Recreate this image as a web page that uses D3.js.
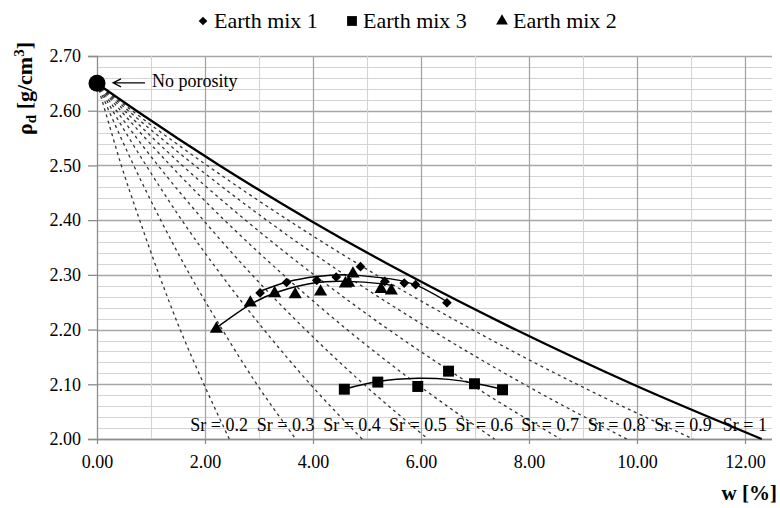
<!DOCTYPE html>
<meta charset="utf-8">
<script src="https://d3js.org/d3.v7.min.js"></script>
<style>
  body { margin: 0; background: #fff; }
</style>
<svg width="780" height="508"></svg>
<script>
// measured points (w in %, dry density in g/cm3)
var mix1W   = [3.02, 3.51, 4.07, 4.43, 4.88, 5.33, 5.69, 5.90, 6.48];
var mix1Rho = [2.267, 2.286, 2.290, 2.296, 2.315, 2.288, 2.285, 2.282, 2.249];
var mix2W   = [2.21, 2.84, 3.29, 3.67, 4.14, 4.60, 4.66, 4.74, 5.26, 5.45];
var mix2Rho = [2.201, 2.249, 2.266, 2.264, 2.269, 2.284, 2.285, 2.302, 2.274, 2.271];
var mix3W   = [4.58, 5.20, 5.94, 6.51, 6.99, 7.51];
var mix3Rho = [2.091, 2.104, 2.096, 2.124, 2.101, 2.090];

// trend lines
var trend1W   = [3.02, 3.52, 4.07, 4.63, 5.25, 5.86, 6.48];
var trend1Rho = [2.270, 2.287, 2.297, 2.300, 2.295, 2.283, 2.251];
var trend2W   = [2.21, 2.84, 3.39, 4.01, 4.63, 5.25, 5.49];
var trend2Rho = [2.203, 2.246, 2.270, 2.285, 2.288, 2.284, 2.280];
var trend3W   = [4.58, 5.20, 5.93, 6.51, 6.99, 7.51];
var trend3Rho = [2.091, 2.105, 2.111, 2.109, 2.102, 2.091];

// saturation lines: w (%) at each density level
var srValues = [0.2, 0.3, 0.4, 0.5, 0.6, 0.7, 0.8, 0.9, 1];
var srRho = [2.65, 2.60, 2.50, 2.40, 2.30, 2.20, 2.10, 2.00];
var srW = [
  [0, 0.15, 0.45, 0.79, 1.15, 1.54, 1.98, 2.45],
  [0, 0.22, 0.68, 1.18, 1.72, 2.32, 2.96, 3.68],
  [0, 0.29, 0.91, 1.57, 2.30, 3.09, 3.95, 4.91],
  [0, 0.36, 1.13, 1.97, 2.87, 3.86, 4.94, 6.13],
  [0, 0.44, 1.36, 2.36, 3.45, 4.63, 5.93, 7.36],
  [0, 0.51, 1.58, 2.75, 4.02, 5.40, 6.92, 8.58],
  [0, 0.58, 1.81, 3.14, 4.59, 6.18, 7.91, 9.81],
  [0, 0.65, 2.04, 3.54, 5.17, 6.95, 8.89, 11.04],
  [0, 0.73, 2.27, 3.94, 5.76, 7.75, 9.92, 12.31]
];

var noPorosityW = 0, noPorosityRho = 2.65;

var xTicks = [0, 2, 4, 6, 8, 10, 12];
var yTicks = [2.00, 2.10, 2.20, 2.30, 2.40, 2.50, 2.60, 2.70];

var serif = "'Liberation Serif', 'Times New Roman', Times, serif";

var svg = d3.select("svg");

var x = d3.scaleLinear().domain([0, 12.5]).range([97, 772]);
var y = d3.scaleLinear().domain([2.00, 2.70]).range([439, 56]);

function zip(ws, rs) { return ws.map(function (w, i) { return [w, rs[i]]; }); }

// grid
var grid = svg.append("g");
d3.range(0, 36).forEach(function (i) {
  var v = 2.00 + i * 0.02;
  var major = i % 5 === 0;
  grid.append("line")
    .attr("x1", x(0)).attr("x2", x(12.5))
    .attr("y1", Math.round(y(v)) + 0.5).attr("y2", Math.round(y(v)) + 0.5)
    .attr("stroke", major ? "#a6a6a6" : "#d4d4d4")
    .attr("stroke-width", major ? 1.3 : 1.1);
});
d3.range(1, 13).forEach(function (v) {
  var major = v % 2 === 0;
  grid.append("line")
    .attr("y1", y(2.00)).attr("y2", y(2.70))
    .attr("x1", Math.round(x(v)) + 0.5).attr("x2", Math.round(x(v)) + 0.5)
    .attr("stroke", major ? "#a6a6a6" : "#d4d4d4")
    .attr("stroke-width", major ? 1.3 : 1.1);
});

// axes
var yAxis = svg.append("g")
  .attr("transform", "translate(" + x(0) + ",0)")
  .call(d3.axisLeft(y).tickValues(yTicks).tickFormat(d3.format(".2f")).tickSize(9).tickPadding(7));
var xAxis = svg.append("g")
  .attr("transform", "translate(0," + y(2.00) + ")")
  .call(d3.axisBottom(x).tickValues(xTicks).tickFormat(d3.format(".2f")).tickSize(5).tickPadding(11));
[xAxis, yAxis].forEach(function (a) {
  a.select(".domain").attr("stroke", "#8c8c8c").attr("stroke-width", 1.3);
  a.selectAll(".tick line").attr("stroke", "#8c8c8c").attr("stroke-width", 1.3);
  a.selectAll(".tick text")
    .style("font-family", serif)
    .style("font-size", "18px").attr("fill", "#000");
});
xAxis.select(".domain").attr("d", "M" + x(0) + ",0.5H" + x(12.5));

// saturation lines
var line = d3.line()
  .x(function (d) { return x(d[0]); })
  .y(function (d) { return y(d[1]); })
  .curve(d3.curveMonotoneX);

srValues.forEach(function (sr, i) {
  var solid = sr === 1;
  svg.append("path")
    .attr("d", line(zip(srW[i], srRho)))
    .attr("fill", "none")
    .attr("stroke", solid ? "#000" : "#333")
    .attr("stroke-width", solid ? 2.3 : 1.3)
    .attr("stroke-dasharray", solid ? null : "3,3.5");
  var endW = srW[i][srW[i].length - 1];
  svg.append("text")
    .attr("x", x(endW) - 39)
    .attr("y", 431)
    .style("font-family", serif).style("font-size", "18px")
    .text("Sr = " + sr);
});

// trend lines
var trend = d3.line()
  .x(function (d) { return x(d[0]); })
  .y(function (d) { return y(d[1]); })
  .curve(d3.curveNatural);
[[trend1W, trend1Rho], [trend2W, trend2Rho], [trend3W, trend3Rho]].forEach(function (t) {
  svg.append("path")
    .attr("d", trend(zip(t[0], t[1])))
    .attr("fill", "none")
    .attr("stroke", "#000")
    .attr("stroke-width", 1.4);
});

// markers
var series = [
  { name: "Earth mix 1", w: mix1W, rho: mix1Rho, sym: d3.symbolDiamond2, size: 60 },
  { name: "Earth mix 3", w: mix3W, rho: mix3Rho, sym: d3.symbolSquare, size: 120 },
  { name: "Earth mix 2", w: mix2W, rho: mix2Rho, sym: d3.symbolTriangle, size: 75 }
];
series.forEach(function (s) {
  svg.append("g").selectAll("path")
    .data(zip(s.w, s.rho))
    .enter().append("path")
    .attr("transform", function (d) { return "translate(" + x(d[0]) + "," + y(d[1]) + ")"; })
    .attr("d", d3.symbol().type(s.sym).size(s.size))
    .attr("fill", "#000");
});

// no porosity point
svg.append("circle")
  .attr("cx", x(noPorosityW)).attr("cy", y(noPorosityRho))
  .attr("r", 8.5).attr("fill", "#000");
var ay = y(noPorosityRho) - 0.5;
svg.append("path")
  .attr("d", "M" + (x(noPorosityW) + 48) + "," + ay + "H" + (x(noPorosityW) + 16) +
    "M" + (x(noPorosityW) + 24) + "," + (ay - 4) + "L" + (x(noPorosityW) + 16) + "," + ay +
    "L" + (x(noPorosityW) + 24) + "," + (ay + 4))
  .attr("fill", "none").attr("stroke", "#000").attr("stroke-width", 1.2);
svg.append("text")
  .attr("x", x(noPorosityW) + 55).attr("y", ay + 4.5)
  .style("font-family", serif).style("font-size", "18px")
  .text("No porosity");

// legend
var legX = [203, 352, 502];
var legend = svg.append("g");
series.forEach(function (s, i) {
  legend.append("path")
    .attr("transform", "translate(" + legX[i] + ",21)")
    .attr("d", d3.symbol().type(s.sym).size(s.size * 0.8))
    .attr("fill", "#000");
  legend.append("text")
    .attr("x", legX[i] + 11).attr("y", 28)
    .style("font-family", serif).style("font-size", "22px")
    .text(s.name);
});

// axis titles
svg.append("text")
  .attr("x", 777).attr("y", 500)
  .attr("text-anchor", "end")
  .style("font-family", serif).style("font-size", "21px").style("font-weight", "bold")
  .text("w [%]");

var yt = svg.append("text")
  .attr("transform", "translate(32,42) rotate(-90)")
  .attr("text-anchor", "end")
  .style("font-family", serif).style("font-size", "22px").style("font-weight", "bold");
yt.append("tspan").text("ρ");
yt.append("tspan").style("font-size", "15px").attr("dy", 4).text("d");
yt.append("tspan").attr("dy", -4).text(" [g/cm");
yt.append("tspan").style("font-size", "15px").attr("dy", -8).text("3");
yt.append("tspan").attr("dy", 8).text("]");
</script>
